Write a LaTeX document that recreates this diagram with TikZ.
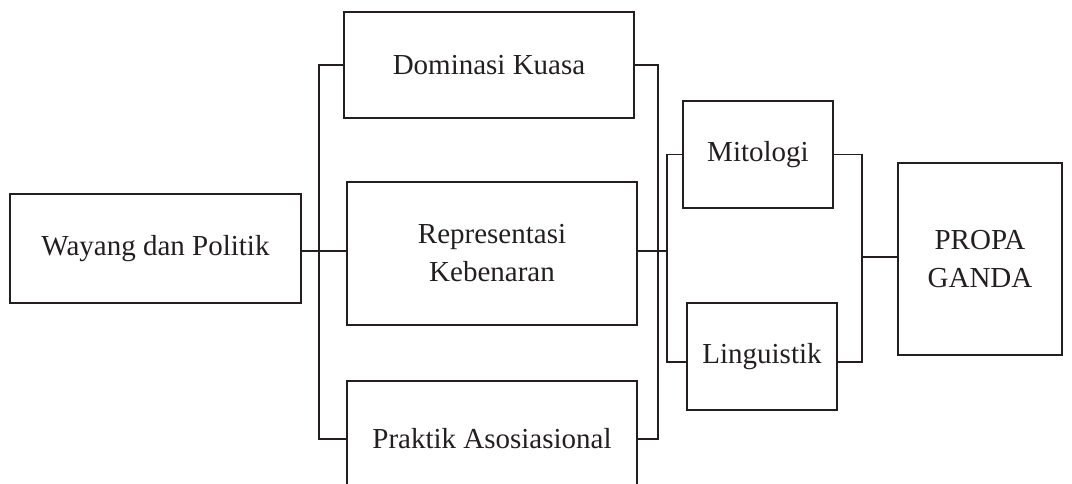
\documentclass[tikz,border=0pt]{standalone}
\usepackage{fontspec}
\setmainfont{Liberation Serif}
\usepackage{xcolor}
\usetikzlibrary{positioning}
\definecolor{ink}{HTML}{231F20}

\tikzset{
 box/.style={draw=ink, line width=2pt, rectangle, inner sep=0pt, align=center,
  text=ink, font=\fontsize{29}{38}\selectfont},
 link/.style={draw=ink, line width=1.3pt},
}

\begin{document}
\begin{tikzpicture}[x=1pt,y=-1pt]
 \path[use as bounding box] (0,0) rectangle (1072,484);
 \clip (0,0) rectangle (1072,484);

 \node[box, minimum width=291pt, minimum height=109pt] (wayang) at (155.5,248.5) {Wayang dan Politik};

 \node[box, minimum width=290pt, minimum height=106pt] (dominasi) at (489,65) {Dominasi Kuasa};
 \node[box, minimum width=290pt, minimum height=143pt] (repr) at (492,253.5) {Representasi\\Kebenaran};
 \node[box, minimum width=290pt, minimum height=116pt] (praktik) at (492,439) {Praktik Asosiasional};

 \node[box, minimum width=150pt, minimum height=107pt] (mito) at (758,154.5) {Mitologi};
 \node[box, minimum width=150pt, minimum height=107pt] (ling) at (762,356.5) {Linguistik};

 \node[box, minimum width=164pt, minimum height=192pt] (propa) at (980,259) {PROPA\\GANDA};

 %%%%%%%%%%%%%%%%%%%%%%%%%%%%%%%%%%%
 \coordinate (jl) at (319,251);
 \draw[link] (wayang.east |- jl) -- (repr.west |- jl);
 \draw[link] (dominasi.west) -| (jl) |- (praktik.west);

 \coordinate (jm) at (658,251);
 \coordinate (jr) at (667,251);
 \draw[link] (dominasi.east) -| (jm) |- (praktik.east);
 \draw[link] (repr.east |- jr) -- (jr);
 \draw[link] (mito.west) -| (jr) |- ([yshift=-5.5pt]ling.west);

 \coordinate (jp) at (862,257);
 \draw[link] (mito.east) -| (jp) |- ([yshift=-5.5pt]ling.east);
 \draw[link] (jp) -- (propa.west |- jp);

\end{tikzpicture}
\end{document}
